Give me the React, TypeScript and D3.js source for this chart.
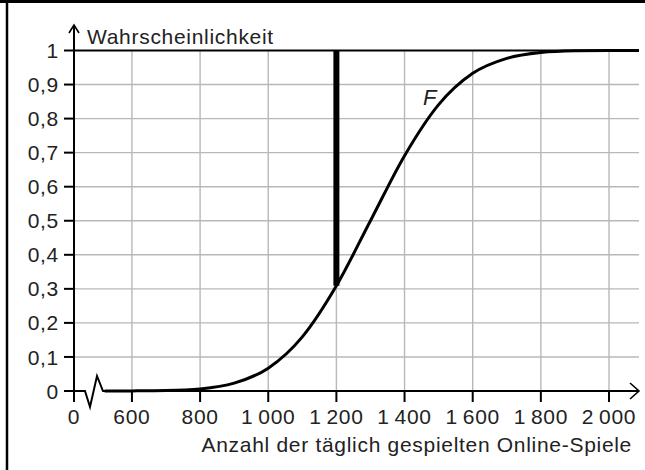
import { useEffect, useRef } from 'react'
import * as d3 from 'd3'

const W = 645
const H = 470
const MARGIN = { top: 50.5, right: 6, bottom: 79, left: 74 }
const FONT = '"Liberation Sans", Arial, sans-serif'
const FS = 21
const LS = 0.7
const GRID = '#b8b8b8'

const xValues = [520, 600, 700, 800, 900, 1000, 1100, 1200, 1300, 1400, 1500, 1600, 1700, 1800, 1900, 2000, 2088]
const fValues = [0, 0.0003, 0.0013, 0.006, 0.023, 0.067, 0.159, 0.309, 0.5, 0.691, 0.841, 0.933, 0.977, 0.994, 0.999, 1, 1]

const xTicks = [600, 800, 1000, 1200, 1400, 1600, 1800, 2000]
const yTicks = [0, 0.1, 0.2, 0.3, 0.4, 0.5, 0.6, 0.7, 0.8, 0.9, 1]
const markX = 1200
const markF = 0.309

// origin of the broken x axis and right end of the plot
const X_ORIGIN = 430
const X_END = 2088

export default function App() {
  const svgRef = useRef<SVGSVGElement>(null)

  useEffect(() => {
    const svg = d3.select(svgRef.current!)
    svg.selectAll('*').remove()

    const x = d3.scaleLinear([X_ORIGIN, X_END], [MARGIN.left, W - MARGIN.right])
    const y = d3.scaleLinear([0, 1], [H - MARGIN.bottom, MARGIN.top])
    const x0 = x(X_ORIGIN)
    const y0 = y(0)

    const label = (sel: d3.Selection<SVGTextElement, unknown, null, undefined>) =>
      sel.attr('font-family', FONT).attr('font-size', FS).attr('letter-spacing', LS).attr('fill', '#222')

    // frame (top + left)
    svg.append('line').attr('x1', 0).attr('x2', W).attr('y1', 1.5).attr('y2', 1.5)
      .attr('stroke', '#000').attr('stroke-width', 3)
    svg.append('line').attr('x1', 7).attr('x2', 7).attr('y1', 0).attr('y2', H)
      .attr('stroke', '#000').attr('stroke-width', 2.5)

    // grid
    yTicks.filter(t => t > 0 && t < 1).forEach(t => {
      svg.append('line').attr('x1', x0).attr('x2', x(X_END)).attr('y1', y(t)).attr('y2', y(t))
        .attr('stroke', GRID).attr('stroke-width', 1.4)
    })
    xTicks.forEach(t => {
      svg.append('line').attr('x1', x(t)).attr('x2', x(t)).attr('y1', y(0)).attr('y2', y(1))
        .attr('stroke', GRID).attr('stroke-width', 1.4)
    })

    // line at probability 1
    svg.append('line').attr('x1', x0).attr('x2', x(X_END)).attr('y1', y(1)).attr('y2', y(1))
      .attr('stroke', '#000').attr('stroke-width', 2.2)

    // y axis
    svg.append('line').attr('x1', x0).attr('x2', x0).attr('y1', y0 + 11).attr('y2', 25)
      .attr('stroke', '#000').attr('stroke-width', 2)
    svg.append('path').attr('d', `M${x0 - 5},${33} L${x0},${25} L${x0 + 5},${33}`)
      .attr('fill', 'none').attr('stroke', '#000').attr('stroke-width', 1.6)

    const yAxis = svg.append('g')
    yTicks.forEach(t => {
      yAxis.append('line').attr('x1', x0 - 10).attr('x2', x0).attr('y1', y(t)).attr('y2', y(t))
        .attr('stroke', '#000').attr('stroke-width', 2)
      yAxis.append('text')
        .attr('x', x0 - 15).attr('y', y(t)).attr('dy', '0.36em')
        .attr('text-anchor', 'end')
        .call(label)
        .text(d3.format('.1f')(t).replace('.', ',').replace(/^0,0$/, '0').replace(/^1,0$/, '1'))
    })

    svg.append('text').attr('x', x0 + 13).attr('y', 44)
      .call(label)
      .text('Wahrscheinlichkeit')

    // x axis with break
    const zig = [[x0, y0], [x0 + 11, y0], [x0 + 16, y0 + 16], [x0 + 23, y0 - 15], [x0 + 29, y0], [x(X_END) - 1, y0]]
    svg.append('path').attr('d', d3.line()(zig as [number, number][]))
      .attr('fill', 'none').attr('stroke', '#000').attr('stroke-width', 2).attr('stroke-linejoin', 'miter')
    svg.append('path')
      .attr('d', `M${x(X_END) - 9},${y0 - 8} L${x(X_END)},${y0} L${x(X_END) - 9},${y0 + 8}`)
      .attr('fill', 'none').attr('stroke', '#000').attr('stroke-width', 1.6)

    const fmt = (v: number) => d3.format(',')(v).replace(',', '\u2009')
    xTicks.forEach(t => {
      svg.append('line').attr('x1', x(t)).attr('x2', x(t)).attr('y1', y0).attr('y2', y0 + 11)
        .attr('stroke', '#000').attr('stroke-width', 2)
      svg.append('text').attr('x', x(t)).attr('y', y0 + 33)
        .attr('text-anchor', 'middle')
        .call(label)
        .text(fmt(t))
    })
    svg.append('text').attr('x', x0).attr('y', y0 + 33)
      .attr('text-anchor', 'middle')
      .call(label)
      .text('0')

    svg.append('text').attr('x', 632).attr('y', y0 + 61)
      .attr('text-anchor', 'end')
      .call(label)
      .text('Anzahl der täglich gespielten Online-Spiele')

    // curve F
    const pts = xValues.map((v, i) => [v, fValues[i]] as [number, number])
    const line = d3.line<[number, number]>()
      .x(d => x(d[0])).y(d => y(d[1]))
      .curve(d3.curveMonotoneX)
    svg.append('path').datum(pts).attr('d', line)
      .attr('fill', 'none').attr('stroke', '#000').attr('stroke-width', 3)

    svg.append('text').attr('x', 423).attr('y', 105)
      .attr('font-family', FONT).attr('font-size', 22).attr('font-style', 'italic').attr('fill', '#222')
      .text('F')

    // thick vertical mark at 1200
    svg.append('line').attr('x1', x(markX)).attr('x2', x(markX)).attr('y1', y(1)).attr('y2', y(markF))
      .attr('stroke', '#000').attr('stroke-width', 6)
  }, [])

  return (
    <div style={{ position: 'absolute', left: 0, top: 0 }}>
      <svg ref={svgRef} width={W} height={H} style={{ display: 'block', background: '#fff' }} />
    </div>
  )
}
